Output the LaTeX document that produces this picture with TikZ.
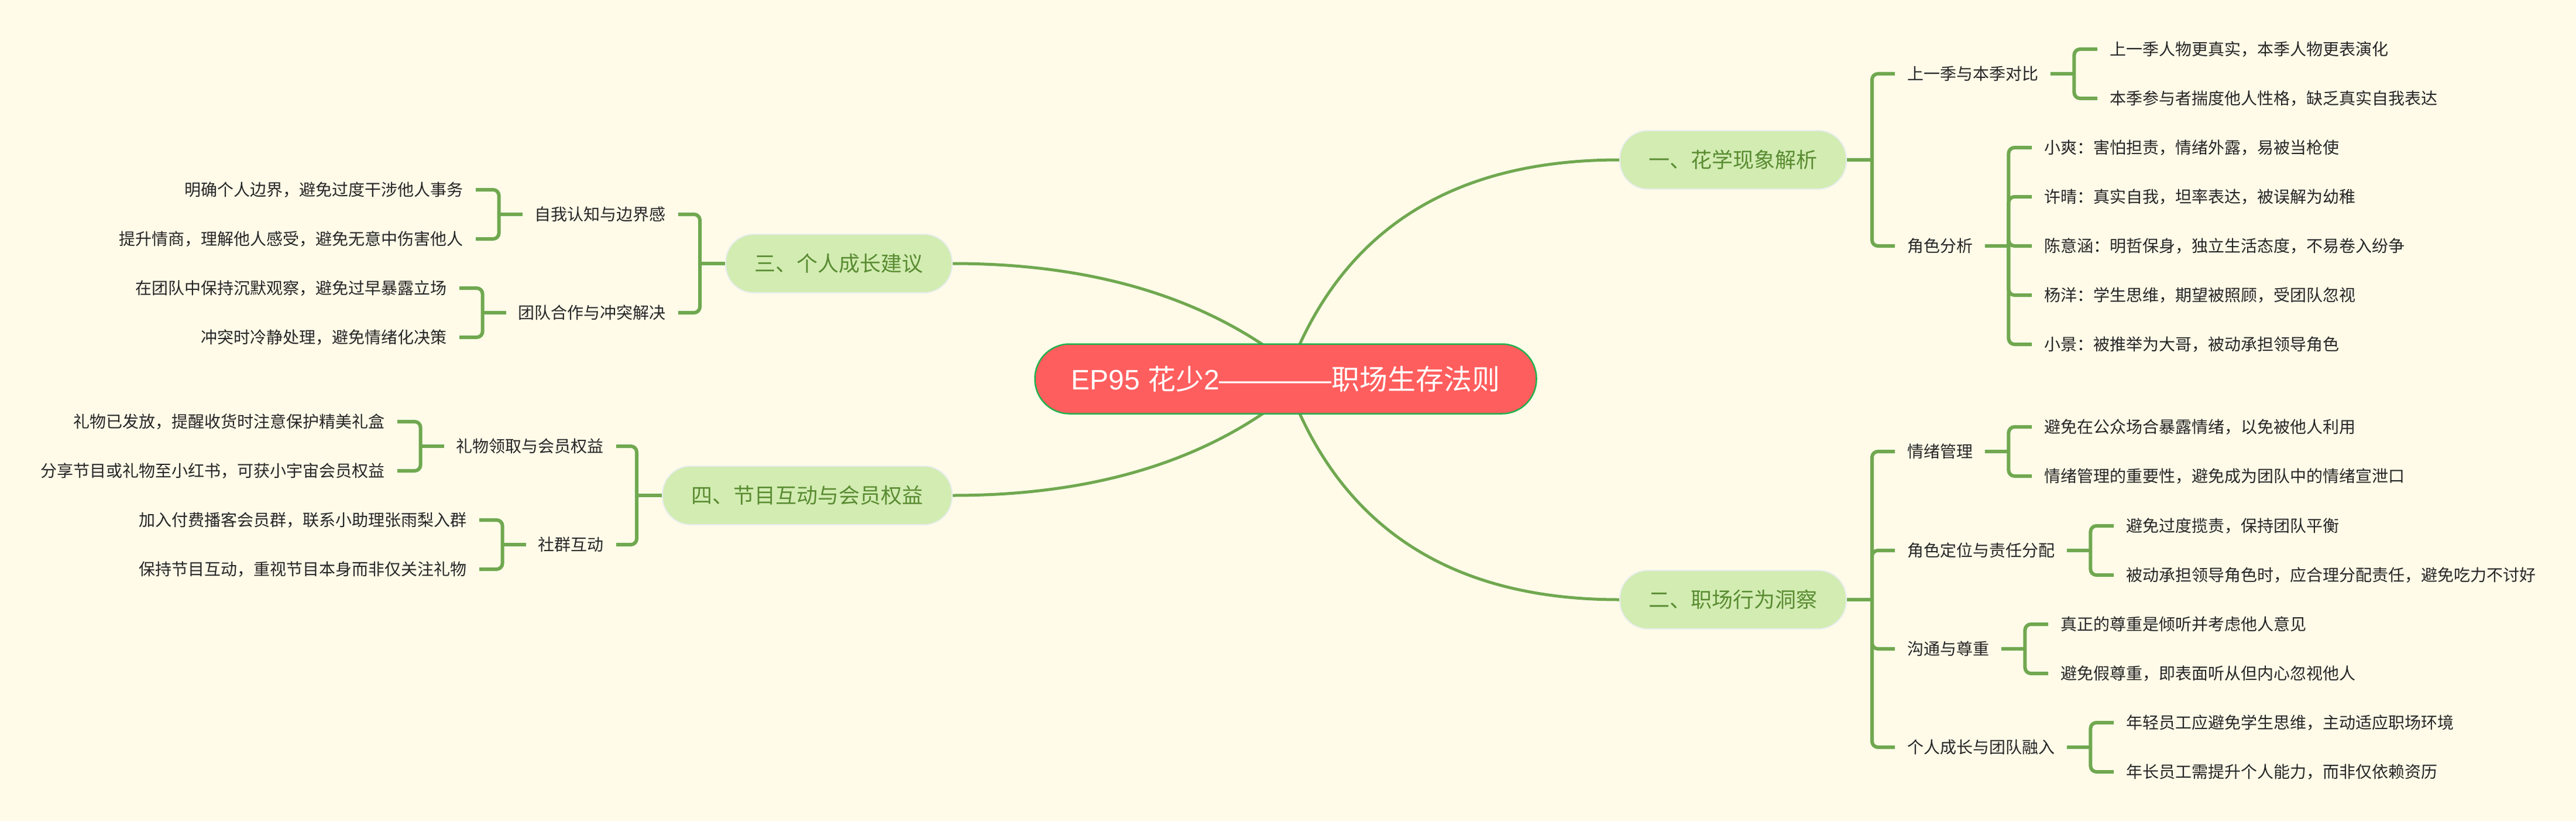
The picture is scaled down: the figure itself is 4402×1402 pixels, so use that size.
\documentclass[tikz,border=0pt]{standalone}
\usepackage{fontspec}
\setmainfont{Noto Sans CJK SC}
\newfontfamily\latinfont{Liberation Sans}
\usetikzlibrary{calc}
\definecolor{bgcream}{HTML}{FFFBE8}
\definecolor{linegreen}{HTML}{70A850}
\definecolor{boxgreen}{HTML}{D2ECB2}
\definecolor{boxedge}{HTML}{E9EDEE}
\definecolor{titlegreen}{HTML}{5A8C32}
\definecolor{rootred}{HTML}{FF5E5E}
\definecolor{rootedge}{HTML}{22B14C}
\definecolor{inktext}{HTML}{262626}
\pgfdeclarelayer{bg}
\pgfdeclarelayer{links}
\pgfsetlayers{bg,links,main}
\begin{document}
\begin{tikzpicture}[x=1pt,y=-1pt,
    rootbox/.style={fill=rootred,draw=rootedge,line width=2.5pt,rounded corners=59pt,
      minimum width=857pt,minimum height=119pt,inner sep=0pt,text=white,
      font=\fontsize{48}{56}\selectfont,text height=40pt,text depth=4pt},
    topicbox/.style={fill=boxgreen,draw=boxedge,line width=2pt,rounded corners=48pt,
      minimum height=100pt,inner xsep=49.5pt,inner ysep=0pt,text=titlegreen,
      font=\fontsize{36}{44}\selectfont,text height=31pt,text depth=3.5pt},
    item/.style={inner xsep=21pt,inner ysep=0pt,text=inktext,
      font=\fontsize{28}{34}\selectfont,text height=24pt,text depth=3pt},
    curve/.style={draw=linegreen,line width=5pt},
    elbow/.style={draw=linegreen,line width=6pt,rounded corners=10pt}]
  \useasboundingbox (0,0) rectangle (4402,1402);
  \begin{pgfonlayer}{bg}
    \fill[bgcream] (0,0) rectangle (4402,1402);
  \end{pgfonlayer}

  \node[rootbox] (root) at (2197,647) {{\latinfont EP95 }花少{\latinfont 2————}职场生存法则};

  \node[topicbox,anchor=west] (b1) at (2767,273) {一、花学现象解析};
  \node[topicbox,anchor=west] (b2) at (2767,1024) {二、职场行为洞察};
  \node[topicbox,anchor=east] (b3) at (1628,450) {三、个人成长建议};
  \node[topicbox,anchor=east] (b4) at (1628,846) {四、节目互动与会员权益};

  % 一
  \node[item,anchor=west] (b1a) at (3238,126) {上一季与本季对比};
  \node[item,anchor=west] (b1a1) at (3584,84) {上一季人物更真实，本季人物更表演化};
  \node[item,anchor=west] (b1a2) at (3584,168) {本季参与者揣度他人性格，缺乏真实自我表达};
  \node[item,anchor=west] (b1b) at (3238,420) {角色分析};
  \node[item,anchor=west] (b1b1) at (3472,252) {小爽：害怕担责，情绪外露，易被当枪使};
  \node[item,anchor=west] (b1b2) at (3472,336) {许晴：真实自我，坦率表达，被误解为幼稚};
  \node[item,anchor=west] (b1b3) at (3472,420) {陈意涵：明哲保身，独立生活态度，不易卷入纷争};
  \node[item,anchor=west] (b1b4) at (3472,504) {杨洋：学生思维，期望被照顾，受团队忽视};
  \node[item,anchor=west] (b1b5) at (3472,588) {小景：被推举为大哥，被动承担领导角色};

  % 二
  \node[item,anchor=west] (b2a) at (3238,771) {情绪管理};
  \node[item,anchor=west] (b2a1) at (3472,729) {避免在公众场合暴露情绪，以免被他人利用};
  \node[item,anchor=west] (b2a2) at (3472,813) {情绪管理的重要性，避免成为团队中的情绪宣泄口};
  \node[item,anchor=west] (b2b) at (3238,940) {角色定位与责任分配};
  \node[item,anchor=west] (b2b1) at (3612,898) {避免过度揽责，保持团队平衡};
  \node[item,anchor=west] (b2b2) at (3612,982) {被动承担领导角色时，应合理分配责任，避免吃力不讨好};
  \node[item,anchor=west] (b2c) at (3238,1108) {沟通与尊重};
  \node[item,anchor=west] (b2c1) at (3500,1066) {真正的尊重是倾听并考虑他人意见};
  \node[item,anchor=west] (b2c2) at (3500,1150) {避免假尊重，即表面听从但内心忽视他人};
  \node[item,anchor=west] (b2d) at (3238,1276) {个人成长与团队融入};
  \node[item,anchor=west] (b2d1) at (3612,1234) {年轻员工应避免学生思维，主动适应职场环境};
  \node[item,anchor=west] (b2d2) at (3612,1318) {年长员工需提升个人能力，而非仅依赖资历};

  % 三
  \node[item,anchor=east] (b3a) at (1159,366) {自我认知与边界感};
  \node[item,anchor=east] (b3a1) at (813,324) {明确个人边界，避免过度干涉他人事务};
  \node[item,anchor=east] (b3a2) at (813,408) {提升情商，理解他人感受，避免无意中伤害他人};
  \node[item,anchor=east] (b3b) at (1159,534) {团队合作与冲突解决};
  \node[item,anchor=east] (b3b1) at (785,492) {在团队中保持沉默观察，避免过早暴露立场};
  \node[item,anchor=east] (b3b2) at (785,576) {冲突时冷静处理，避免情绪化决策};

  % 四
  \node[item,anchor=east] (b4a) at (1053,762) {礼物领取与会员权益};
  \node[item,anchor=east] (b4a1) at (679,720) {礼物已发放，提醒收货时注意保护精美礼盒};
  \node[item,anchor=east] (b4a2) at (679,804) {分享节目或礼物至小红书，可获小宇宙会员权益};
  \node[item,anchor=east] (b4b) at (1053,930) {社群互动};
  \node[item,anchor=east] (b4b1) at (819,888) {加入付费播客会员群，联系小助理张雨梨入群};
  \node[item,anchor=east] (b4b2) at (819,972) {保持节目互动，重视节目本身而非仅关注礼物};

  \begin{pgfonlayer}{links}
    \draw[curve] (root.center) .. controls ($(root.center)+(89,-250)$) and ($(b1.west)+(-291,0)$) .. (b1.west);
    \draw[curve] (root.center) .. controls ($(root.center)+(89,251)$) and ($(b2.west)+(-291,0)$) .. (b2.west);
    \draw[curve] ($(root.center)+(37,0)$) .. controls ($(root.center)+(-111,-131)$) and ($(b3.east)+(255,0)$) .. (b3.east);
    \draw[curve] ($(root.center)+(37,0)$) .. controls ($(root.center)+(-111,133)$) and ($(b4.east)+(256,0)$) .. (b4.east);

    % right side
    \foreach \p in {b1,b2} \draw[elbow] (\p.east) -- ++(43,0);
    \foreach \p/\c in {b1/b1a,b1/b1b,b2/b2a,b2/b2b,b2/b2c,b2/b2d}
      \draw[elbow] ($(\p.east)+(43,0)$) |- (\c.west);
    \foreach \p in {b1a,b1b,b2a,b2b,b2c,b2d} \draw[elbow] (\p.east) -- ++(40,0);
    \foreach \p/\c in {b1a/b1a1,b1a/b1a2,b1b/b1b1,b1b/b1b2,b1b/b1b3,b1b/b1b4,b1b/b1b5,
        b2a/b2a1,b2a/b2a2,b2b/b2b1,b2b/b2b2,b2c/b2c1,b2c/b2c2,b2d/b2d1,b2d/b2d2}
      \draw[elbow] ($(\p.east)+(40,0)$) |- (\c.west);

    % left side
    \foreach \p in {b3,b4} \draw[elbow] (\p.west) -- ++(-43,0);
    \foreach \p/\c in {b3/b3a,b3/b3b,b4/b4a,b4/b4b}
      \draw[elbow] ($(\p.west)+(-43,0)$) |- (\c.east);
    \foreach \p in {b3a,b3b,b4a,b4b} \draw[elbow] (\p.west) -- ++(-40,0);
    \foreach \p/\c in {b3a/b3a1,b3a/b3a2,b3b/b3b1,b3b/b3b2,b4a/b4a1,b4a/b4a2,b4b/b4b1,b4b/b4b2}
      \draw[elbow] ($(\p.west)+(-40,0)$) |- (\c.east);
  \end{pgfonlayer}
\end{tikzpicture}
\end{document}
